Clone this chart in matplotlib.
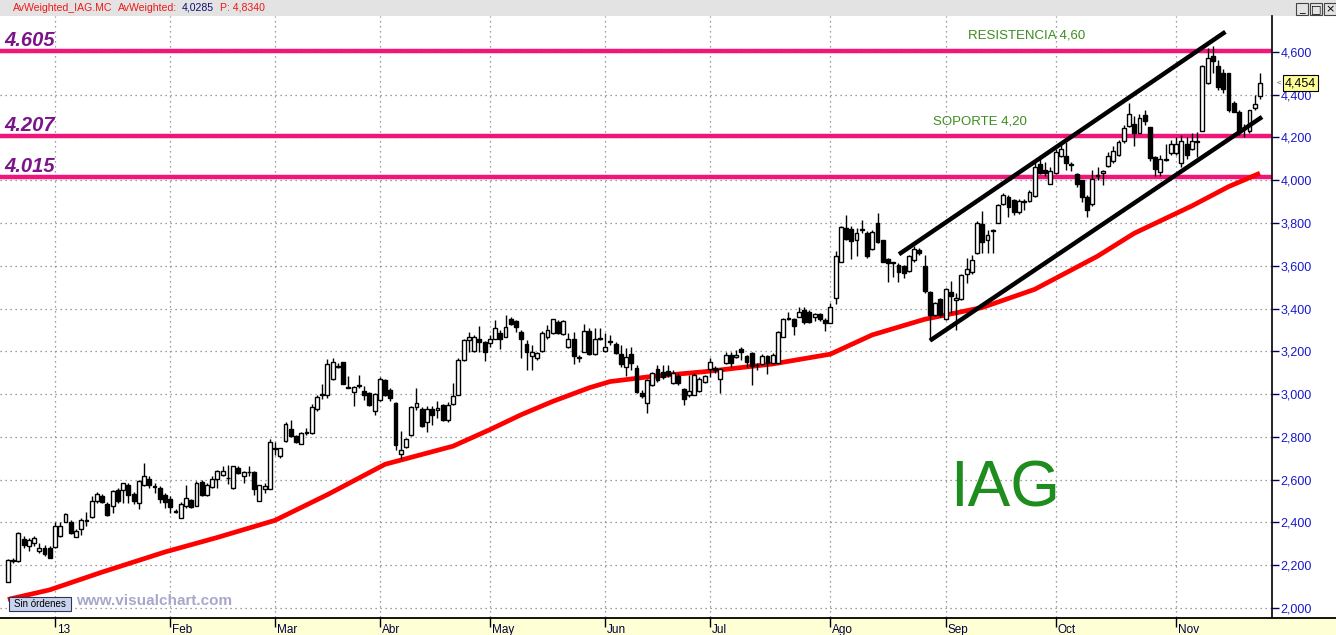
import numpy as np
import matplotlib
matplotlib.use("Agg")
import matplotlib.pyplot as plt
from matplotlib.patches import Rectangle
from matplotlib.lines import Line2D
import matplotlib.transforms as mtransforms

plt.rcParams['font.family'] = ['Liberation Sans', 'DejaVu Sans']

# ---------------- data ----------------
opens = [
    2.12, 2.22, 2.222, 2.321, 2.291, 2.305, 2.268, 2.282, 2.282, 2.287,
    2.336, 2.403, 2.402, 2.333, 2.371, 2.405, 2.426, 2.499, 2.525, 2.487,
    2.479, 2.55, 2.55, 2.577, 2.535, 2.491, 2.574, 2.603, 2.57, 2.561,
    2.53, 2.512, 2.45, 2.422, 2.476, 2.505, 2.476, 2.589, 2.529, 2.566,
    2.603, 2.621, 2.608, 2.561, 2.654, 2.617, 2.635, 2.636, 2.499, 2.558,
    2.557, 2.745, 2.709, 2.78, 2.836, 2.803, 2.769, 2.82, 2.817, 2.929,
    2.997, 2.998, 3.07, 3.13, 3.149, 3.032, 3.009, 3.04, 3.016, 3.005,
    2.919, 2.971, 3.067, 3.02, 2.958, 2.718, 2.752, 2.808, 2.94, 2.93,
    2.868, 2.93, 2.924, 2.95, 2.877, 2.953, 2.995, 3.16, 3.254, 3.203,
    3.26, 3.245, 3.237, 3.26, 3.284, 3.268, 3.349, 3.341, 3.291, 3.233,
    3.18, 3.171, 3.203, 3.268, 3.284, 3.338, 3.281, 3.222, 3.26, 3.172,
    3.198, 3.296, 3.186, 3.26, 3.203, 3.245, 3.233, 3.186, 3.126, 3.186,
    3.121, 3.005, 2.958, 3.042, 3.116, 3.105, 3.108, 3.05, 3.084, 3.022,
    2.998, 2.998, 3.016, 3.058, 3.116, 3.12, 3.069, 3.144, 3.181, 3.175,
    3.209, 3.178, 3.191, 3.136, 3.139, 3.178, 3.144, 3.147, 3.269, 3.355,
    3.352, 3.362, 3.394, 3.386, 3.359, 3.375, 3.347, 3.334, 3.448, 3.62,
    3.777, 3.772, 3.719, 3.767, 3.753, 3.678, 3.80, 3.719, 3.631, 3.613,
    3.603, 3.60, 3.578, 3.625, 3.675, 3.60, 3.477, 3.37, 3.445, 3.35,
    3.477, 3.441, 3.445, 3.562, 3.57, 3.658, 3.797, 3.721, 3.763, 3.801,
    3.888, 3.922, 3.906, 3.852, 3.90, 3.903, 3.926, 4.076, 4.049, 3.984,
    4.033, 4.115, 4.112, 4.075, 4.03, 4.00, 3.922, 3.89, 4.02, 4.033,
    4.065, 4.092, 4.12, 4.182, 4.255, 4.262, 4.223, 4.304, 4.247, 4.11,
    4.038, 4.097, 4.128, 4.126, 4.08, 4.17, 4.146, 4.18, 4.231, 4.456,
    4.583, 4.533, 4.502, 4.50, 4.363, 4.32, 4.24, 4.231, 4.34, 4.394,
]
highs = [
    2.23, 2.235, 2.355, 2.336, 2.329, 2.336, 2.305, 2.295, 2.29, 2.402,
    2.40, 2.445, 2.41, 2.37, 2.42, 2.448, 2.522, 2.541, 2.535, 2.495,
    2.553, 2.561, 2.585, 2.585, 2.541, 2.597, 2.677, 2.619, 2.585, 2.569,
    2.538, 2.522, 2.461, 2.495, 2.577, 2.51, 2.592, 2.60, 2.585, 2.615,
    2.646, 2.662, 2.667, 2.665, 2.662, 2.64, 2.665, 2.639, 2.577, 2.585,
    2.79, 2.774, 2.75, 2.871, 2.879, 2.81, 2.825, 2.84, 2.952, 2.998,
    3.047, 3.166, 3.171, 3.147, 3.152, 3.085, 3.036, 3.09, 3.036, 3.009,
    3.005, 3.082, 3.071, 3.031, 2.961, 2.826, 2.795, 2.946, 3.031, 2.938,
    2.946, 2.946, 2.966, 2.953, 2.961, 3.051, 3.171, 3.26, 3.291, 3.276,
    3.319, 3.248, 3.276, 3.346, 3.299, 3.369, 3.361, 3.346, 3.299, 3.253,
    3.229, 3.198, 3.295, 3.322, 3.353, 3.346, 3.346, 3.284, 3.291, 3.183,
    3.33, 3.307, 3.307, 3.31, 3.284, 3.276, 3.245, 3.229, 3.214, 3.222,
    3.136, 3.02, 3.071, 3.105, 3.136, 3.136, 3.136, 3.113, 3.097, 3.027,
    3.089, 3.097, 3.081, 3.089, 3.167, 3.131, 3.12, 3.198, 3.198, 3.206,
    3.222, 3.183, 3.198, 3.144, 3.187, 3.183, 3.191, 3.295, 3.355, 3.386,
    3.358, 3.409, 3.406, 3.394, 3.378, 3.381, 3.355, 3.425, 3.667, 3.784,
    3.839, 3.784, 3.777, 3.816, 3.761, 3.769, 3.847, 3.722, 3.636, 3.62,
    3.613, 3.605, 3.652, 3.691, 3.683, 3.652, 3.48, 3.433, 3.448, 3.495,
    3.527, 3.472, 3.562, 3.636, 3.65, 3.81, 3.857, 3.767, 3.77, 3.89,
    3.94, 3.93, 3.914, 3.914, 3.914, 3.953, 4.084, 4.10, 4.084, 4.061,
    4.146, 4.18, 4.18, 4.085, 4.035, 4.00, 3.93, 4.05, 4.06, 4.05,
    4.13, 4.16, 4.19, 4.26, 4.36, 4.30, 4.31, 4.33, 4.25, 4.115,
    4.12, 4.17, 4.19, 4.20, 4.21, 4.20, 4.22, 4.225, 4.54, 4.62,
    4.63, 4.56, 4.52, 4.50, 4.37, 4.33, 4.262, 4.33, 4.40, 4.50,
]
lows = [
    2.12, 2.21, 2.215, 2.282, 2.267, 2.29, 2.259, 2.243, 2.232, 2.282,
    2.333, 2.40, 2.347, 2.33, 2.34, 2.383, 2.42, 2.49, 2.49, 2.429,
    2.445, 2.49, 2.49, 2.49, 2.484, 2.464, 2.569, 2.561, 2.538, 2.491,
    2.468, 2.445, 2.442, 2.419, 2.468, 2.468, 2.476, 2.522, 2.522, 2.561,
    2.561, 2.616, 2.581, 2.558, 2.628, 2.583, 2.616, 2.53, 2.499, 2.538,
    2.557, 2.716, 2.70, 2.778, 2.801, 2.77, 2.766, 2.81, 2.814, 2.922,
    2.975, 2.984, 3.067, 3.121, 3.048, 3.028, 2.946, 3.028, 2.974, 2.943,
    2.904, 2.966, 2.989, 2.966, 2.741, 2.695, 2.749, 2.803, 2.926, 2.846,
    2.823, 2.854, 2.888, 2.873, 2.868, 2.95, 2.994, 3.155, 3.198, 3.198,
    3.198, 3.155, 3.222, 3.257, 3.209, 3.268, 3.322, 3.291, 3.171, 3.113,
    3.113, 3.16, 3.198, 3.26, 3.281, 3.281, 3.276, 3.214, 3.14, 3.152,
    3.195, 3.183, 3.183, 3.253, 3.198, 3.229, 3.186, 3.128, 3.087, 3.113,
    3.005, 2.981, 2.912, 3.037, 3.058, 3.073, 3.081, 3.047, 3.042, 2.949,
    2.988, 2.995, 3.011, 3.053, 3.081, 3.097, 3.006, 3.141, 3.128, 3.167,
    3.159, 3.128, 3.045, 3.113, 3.136, 3.092, 3.141, 3.144, 3.266, 3.347,
    3.277, 3.359, 3.328, 3.334, 3.344, 3.344, 3.297, 3.331, 3.422, 3.617,
    3.722, 3.631, 3.644, 3.753, 3.636, 3.675, 3.706, 3.617, 3.522, 3.55,
    3.522, 3.542, 3.573, 3.62, 3.652, 3.475, 3.253, 3.366, 3.362, 3.347,
    3.378, 3.30, 3.441, 3.519, 3.56, 3.655, 3.658, 3.658, 3.658, 3.798,
    3.883, 3.829, 3.837, 3.844, 3.86, 3.898, 3.922, 4.03, 4.022, 3.981,
    4.03, 4.11, 4.05, 4.045, 3.97, 3.90, 3.83, 3.88, 4.00, 3.98,
    4.06, 4.08, 4.115, 4.175, 4.25, 4.16, 4.22, 4.26, 4.09, 4.02,
    4.02, 4.09, 4.12, 4.12, 4.06, 4.10, 4.14, 4.11, 4.23, 4.45,
    4.50, 4.42, 4.41, 4.32, 4.32, 4.21, 4.20, 4.22, 4.33, 4.38,
]
closes = [
    2.225, 2.225, 2.352, 2.295, 2.316, 2.329, 2.282, 2.254, 2.236, 2.383,
    2.383, 2.44, 2.352, 2.36, 2.411, 2.41, 2.499, 2.533, 2.496, 2.434,
    2.546, 2.50, 2.583, 2.529, 2.50, 2.592, 2.619, 2.574, 2.568, 2.51,
    2.496, 2.473, 2.448, 2.487, 2.513, 2.473, 2.584, 2.53, 2.577, 2.603,
    2.64, 2.64, 2.606, 2.662, 2.631, 2.636, 2.634, 2.557, 2.574, 2.569,
    2.775, 2.743, 2.748, 2.859, 2.805, 2.775, 2.82, 2.822, 2.941, 2.988,
    3.0, 3.143, 3.152, 3.128, 3.048, 3.031, 3.033, 3.042, 2.997, 2.947,
    3.002, 3.071, 2.997, 2.981, 2.764, 2.74, 2.788, 2.941, 2.957, 2.85,
    2.93, 2.901, 2.935, 2.877, 2.95, 2.992, 3.16, 3.253, 3.267, 3.268,
    3.245, 3.198, 3.26, 3.31, 3.256, 3.315, 3.33, 3.315, 3.257, 3.198,
    3.198, 3.191, 3.284, 3.302, 3.349, 3.284, 3.341, 3.256, 3.18, 3.17,
    3.296, 3.19, 3.26, 3.262, 3.219, 3.246, 3.191, 3.14, 3.175, 3.144,
    3.009, 2.989, 3.067, 3.097, 3.066, 3.081, 3.089, 3.1, 3.05, 2.977,
    3.014, 3.089, 3.073, 3.084, 3.152, 3.112, 3.116, 3.183, 3.144, 3.183,
    3.198, 3.152, 3.133, 3.134, 3.18, 3.144, 3.183, 3.289, 3.35, 3.352,
    3.32, 3.386, 3.339, 3.339, 3.373, 3.35, 3.331, 3.409, 3.648, 3.781,
    3.725, 3.714, 3.753, 3.766, 3.647, 3.756, 3.709, 3.62, 3.613, 3.612,
    3.573, 3.566, 3.644, 3.678, 3.662, 3.48, 3.37, 3.428, 3.37, 3.491,
    3.461, 3.448, 3.558, 3.584, 3.627, 3.80, 3.71, 3.744, 3.765, 3.886,
    3.932, 3.875, 3.852, 3.903, 3.898, 3.945, 4.061, 4.033, 4.033, 4.045,
    4.131, 4.146, 4.081, 4.073, 3.984, 3.922, 3.86, 4.007, 4.022, 4.045,
    4.112, 4.138, 4.177, 4.244, 4.312, 4.223, 4.29, 4.275, 4.104, 4.053,
    4.10, 4.10, 4.17, 4.169, 4.182, 4.12, 4.182, 4.181, 4.533, 4.572,
    4.556, 4.437, 4.425, 4.327, 4.32, 4.224, 4.238, 4.327, 4.358, 4.456,
]

# weighted moving average (sampled along the series)
ma_pos = [1, 9, 19, 31, 41, 52, 62, 73, 86, 93, 99, 105, 112, 116, 124, 134,
          147, 158, 166, 176, 187, 197, 209, 216, 227, 234, 240]
ma_val = [2.04, 2.085, 2.168, 2.262, 2.33, 2.41, 2.53, 2.672, 2.757, 2.834,
          2.904, 2.966, 3.03, 3.059, 3.083, 3.105, 3.141, 3.187, 3.277, 3.35,
          3.405, 3.49, 3.645, 3.752, 3.88, 3.97, 4.033]

# horizontal levels
levels = [4.605, 4.207, 4.015]
level_labels = ["4.605", "4.207", "4.015"]

# trend channel (start, end) in (bar position, price)
chan_upper_x = [171.1, 233.4]
chan_upper_y = [3.654, 4.694]
chan_lower_x = [177.0, 240.4]
chan_lower_y = [3.25, 4.296]

month_pos = [10, 32, 52, 72, 93, 115, 135, 158, 180, 201, 224]
month_labels = ["13", "Feb", "Mar", "Abr", "May", "Jun", "Jul", "Ago", "Sep", "Oct", "Nov"]

yticks = [2.0, 2.2, 2.4, 2.6, 2.8, 3.0, 3.2, 3.4, 3.6, 3.8, 4.0, 4.2, 4.4, 4.6]
last_price = 4.454

# ---------------- figure ----------------
W, H = 1336, 635
fig = plt.figure(figsize=(W / 100, H / 100), dpi=100)
fig.patch.set_facecolor("white")

def fx(px):
    return px / W

def fy(py):
    return 1 - py / H

# header bar
fig.patches.append(Rectangle((0, fy(16)), 1, 16 / H, transform=fig.transFigure,
                             facecolor="#E3E3E3", edgecolor="none", zorder=-2))
# bottom band
fig.patches.append(Rectangle((0, 0), 1, 18 / H, transform=fig.transFigure,
                             facecolor="#FFFFD6", edgecolor="none", zorder=-2))
fig.lines.append(Line2D([0, 1], [fy(617.5), fy(617.5)], transform=fig.transFigure,
                        color="black", lw=1.3, zorder=-1))

ax = fig.add_axes([0, fy(617), fx(1272), (617 - 16) / H])
ax.set_facecolor("white")
ax.set_xlim(-0.5, 242.3)
ax.set_ylim(1.958, 4.768)

# grid
for yv in yticks:
    ax.axhline(yv, color="#7F7F7F", lw=0.9, ls=(0, (1, 3)), zorder=1)
for xv in month_pos:
    ax.axvline(xv, color="#7F7F7F", lw=0.9, ls=(0, (1, 3)), zorder=1)

# horizontal levels
for lv, lab in zip(levels, level_labels):
    ax.axhline(lv, color="#F0157A", lw=3.2, zorder=2)
    ax.annotate(lab, xy=(4 / 1272, lv), xycoords=("axes fraction", "data"),
                xytext=(0, 3.5), textcoords="offset points", ha="left", va="baseline",
                fontsize=14.5, fontweight="bold", fontstyle="italic", color="#7A1488",
                zorder=6)

# moving average
ax.plot(ma_pos, ma_val, color="#FF0000", lw=3.4, zorder=3, solid_capstyle="butt")

# candles
pos = np.arange(1, len(closes) + 1)
o = np.array(opens); c = np.array(closes); h = np.array(highs); l = np.array(lows)
up = c >= o
ax.vlines(pos, l, h, color="black", lw=1.0, zorder=4)
bottoms = np.minimum(o, c)
heights = np.maximum(np.abs(c - o), 0.004)
ax.bar(pos[up], heights[up], bottom=bottoms[up], width=0.74,
       facecolor="white", edgecolor="black", linewidth=1.0, zorder=5)
ax.bar(pos[~up], heights[~up], bottom=bottoms[~up], width=0.74,
       facecolor="black", edgecolor="black", linewidth=1.0, zorder=5)

# channel
ax.plot(chan_upper_x, chan_upper_y, color="black", lw=3.2, zorder=6, solid_capstyle="butt")
ax.plot(chan_lower_x, chan_lower_y, color="black", lw=3.2, zorder=6, solid_capstyle="butt")

# texts
ax.text(195.4, 4.678, "RESISTENCIA 4,60", color="#3C8C1E", fontsize=9.5,
        ha="center", va="center", zorder=7)
ax.text(186.6, 4.277, "SOPORTE 4,20", color="#3C8C1E", fontsize=9.5,
        ha="center", va="center", zorder=7)
ax.text(191.4, 2.555, "IAG", color="#1E8C1E", fontsize=46, ha="center", va="center",
        zorder=7)

# axes styling
for s in ["top", "left", "bottom"]:
    ax.spines[s].set_visible(False)
ax.spines["right"].set_color("black")
ax.spines["right"].set_linewidth(1.2)
ax.yaxis.tick_right()
ax.set_yticks(yticks)
ax.set_yticklabels([f"{v:.3f}".replace(".", ",") for v in yticks])
ax.tick_params(axis="y", length=5, width=1, color="#000060", labelcolor="#1818C8",
               labelsize=9, pad=1)
ax.set_xticks(month_pos)
ax.set_xticklabels([])
ax.tick_params(axis="x", length=7, width=1, color="black", direction="out")
trans = mtransforms.blended_transform_factory(ax.transData, ax.transAxes)
for xv, lab in zip(month_pos, month_labels):
    ax.text(xv + 0.35, -0.011, lab, transform=trans, ha="left", va="top",
            fontsize=8.5, color="#000040", clip_on=False)

# last price tag
ax.annotate(f"{last_price:.3f}".replace(".", ","), xy=(1.0, last_price),
            xycoords=("axes fraction", "data"), xytext=(9, 0), textcoords="offset points",
            ha="left", va="center", fontsize=9, color="black",
            bbox=dict(boxstyle="square,pad=0.15", facecolor="#FFFF99", edgecolor="black",
                      lw=0.8), annotation_clip=False, zorder=8)
ax.annotate("<", xy=(1.0, last_price), xycoords=("axes fraction", "data"),
            xytext=(3, 0), textcoords="offset points", ha="left", va="center",
            fontsize=6, color="#555555", annotation_clip=False)

# header text
hy = fy(8)
fig.text(fx(13), hy, "AvWeighted_IAG.MC", color="#F01818", fontsize=7.6, va="center")
fig.text(fx(118), hy, "AvWeighted:", color="#F01818", fontsize=7.6, va="center")
fig.text(fx(182), hy, "4,0285", color="#101070", fontsize=7.6, va="center")
fig.text(fx(220), hy, "P: 4,8340", color="#F01818", fontsize=7.6, va="center")

# window buttons
for bx, sym in zip([1296, 1310, 1324], ["_", "\u25A1", "\u00D7"]):
    fig.patches.append(Rectangle((fx(bx), fy(15)), 12 / W, 12 / H, transform=fig.transFigure,
                                 facecolor="#E3E3E3", edgecolor="#444444", lw=0.8))
    fig.text(fx(bx + 6), fy(9), sym, ha="center", va="center", fontsize=8, color="black",
             family=["DejaVu Sans"])

# footer labels
fig.patches.append(Rectangle((fx(9), fy(611)), 62 / W, 14 / H, transform=fig.transFigure,
                             facecolor="#C9D5EE", edgecolor="#33335A", lw=0.8, zorder=9))
fig.text(fx(40), fy(604), "Sin órdenes", ha="center", va="center", fontsize=7,
         color="black", zorder=10)
fig.text(fx(76), fy(601), "www.visualchart.com", ha="left", va="center", fontsize=11,
         fontweight="bold", color="#A7A7CC", zorder=10)

fig.savefig("out.png", dpi=100)
